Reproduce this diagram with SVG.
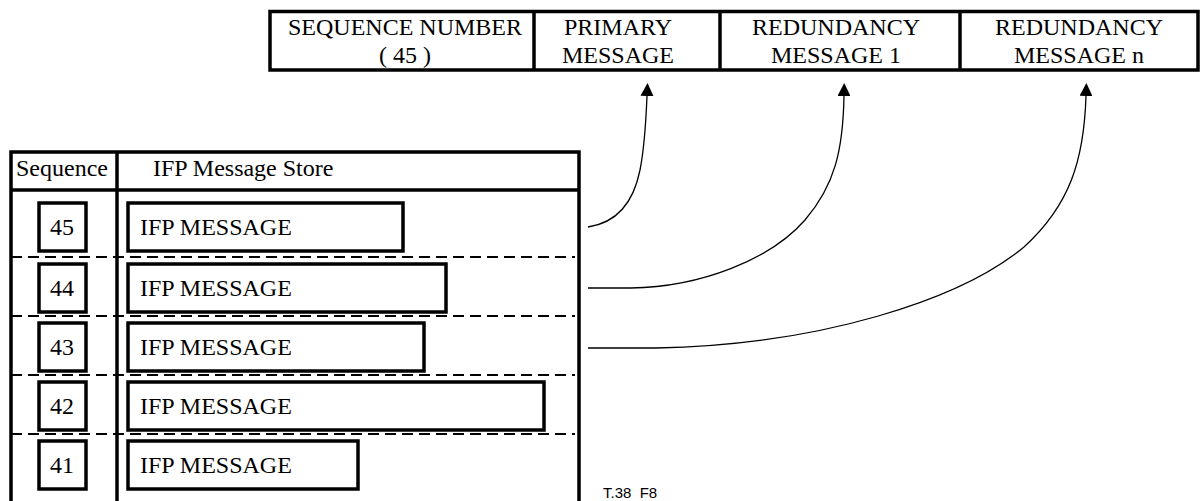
<svg xmlns="http://www.w3.org/2000/svg" width="1200" height="501" viewBox="0 0 1200 501">
<style>
.t{font-family:"Liberation Serif","Times New Roman",serif;font-size:24px;fill:#000}
.m{text-anchor:middle}
.box{fill:#fff;stroke:#000;stroke-width:3.5}
.frame{fill:none;stroke:#000;stroke-width:3.5}
.dash{stroke:#000;stroke-width:2;stroke-dasharray:11 6;fill:none}
.conn{fill:none;stroke:#000;stroke-width:1.3}
.lbl{font-family:"Liberation Sans",Arial,sans-serif;font-size:15px;fill:#000;white-space:pre}
</style>
<defs>
<marker id="ah" markerUnits="userSpaceOnUse" markerWidth="13" markerHeight="13" refX="0" refY="6.5" orient="auto" viewBox="0 0 13 13">
<path d="M0,0 L13,6.5 L0,13 Z" fill="#000"/>
</marker>
</defs>
<g id="header-bar">
<rect class="frame" x="270" y="11.5" width="928" height="58.5"/>
<line class="frame" x1="534" y1="11.5" x2="534" y2="70"/>
<line class="frame" x1="720" y1="11.5" x2="720" y2="70"/>
<line class="frame" x1="960" y1="11.5" x2="960" y2="70"/>
</g>
<g id="cell-seqnum"><text class="t m" x="405" y="35">SEQUENCE NUMBER</text><text class="t m" x="405" y="63">( 45 )</text></g>
<g id="cell-primary"><text class="t m" x="618" y="35">PRIMARY</text><text class="t m" x="618" y="63">MESSAGE</text></g>
<g id="cell-red1"><text class="t m" x="836" y="35">REDUNDANCY</text><text class="t m" x="836" y="63">MESSAGE 1</text></g>
<g id="cell-redn"><text class="t m" x="1079" y="35">REDUNDANCY</text><text class="t m" x="1079" y="63">MESSAGE n</text></g>
<g id="store-table">
<path class="frame" d="M11,503 V152 H579 V503"/>
<line class="frame" x1="117" y1="152" x2="117" y2="503"/>
<line class="frame" x1="11" y1="190" x2="579" y2="190"/>
<line class="dash" x1="11" y1="257" x2="575" y2="257"/>
<line class="dash" x1="11" y1="316" x2="575" y2="316"/>
<line class="dash" x1="11" y1="375" x2="575" y2="375"/>
<line class="dash" x1="11" y1="434" x2="575" y2="434"/>
<text class="t" x="16" y="176">Sequence</text>
<text class="t" x="153" y="176">IFP Message Store</text>
</g>
<g id="row-45"><rect class="box" x="39" y="203" width="47" height="48"/><text class="t m" x="62" y="235">45</text><rect class="box" x="128" y="203" width="275" height="48"/><text class="t" x="140" y="235">IFP MESSAGE</text></g>
<g id="row-44"><rect class="box" x="39" y="264" width="47" height="48"/><text class="t m" x="62" y="296">44</text><rect class="box" x="128" y="264" width="318" height="48"/><text class="t" x="140" y="296">IFP MESSAGE</text></g>
<g id="row-43"><rect class="box" x="39" y="323" width="47" height="48"/><text class="t m" x="62" y="355">43</text><rect class="box" x="128" y="323" width="296" height="48"/><text class="t" x="140" y="355">IFP MESSAGE</text></g>
<g id="row-42"><rect class="box" x="39" y="382" width="47" height="48"/><text class="t m" x="62" y="414">42</text><rect class="box" x="128" y="382" width="416" height="48"/><text class="t" x="140" y="414">IFP MESSAGE</text></g>
<g id="row-41"><rect class="box" x="39" y="441" width="47" height="48"/><text class="t m" x="62" y="473">41</text><rect class="box" x="128" y="441" width="230" height="48"/><text class="t" x="140" y="473">IFP MESSAGE</text></g>
<g id="connectors">
<path class="conn" marker-end="url(#ah)" d="M588,227 C615,223 633,205 640,170 C645,145 646,120 647,96"/>
<path class="conn" marker-end="url(#ah)" d="M588,288 L631,288 C700,287 770,260 805,220 C835,185 843,150 844,96"/>
<path class="conn" marker-end="url(#ah)" d="M588,348 L656,348 C820,345 960,300 1024,247 C1070,205 1084,160 1086,96"/>
</g>
<text class="lbl" x="603" y="498" xml:space="preserve">T.38  F8</text>
</svg>
